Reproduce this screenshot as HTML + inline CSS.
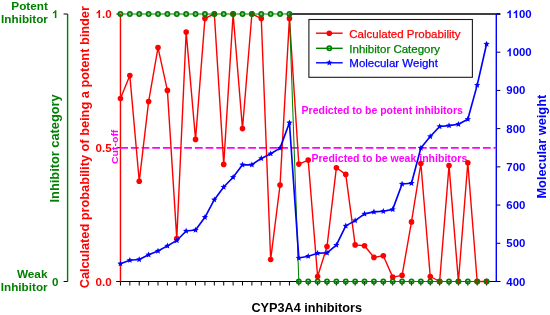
<!DOCTYPE html>
<html><head><meta charset="utf-8"><style>
html,body{margin:0;padding:0;background:#fff;}
body{width:550px;height:315px;overflow:hidden;}
svg{display:block;will-change:transform;}
</style></head><body>
<svg width="550" height="315" viewBox="0 0 550 315">
<rect width="550" height="315" fill="#fff"/>
<line x1="289.43" y1="14.0" x2="500.3" y2="14.0" stroke="#000" stroke-width="1.5"/>
<line x1="116.45" y1="281.5" x2="298.82" y2="281.5" stroke="#000" stroke-width="1"/>
<line x1="486.58" y1="281.5" x2="500.3" y2="281.5" stroke="#000" stroke-width="1"/>
<line x1="116.45" y1="14.0" x2="120.45" y2="14.0" stroke="#000" stroke-width="1"/>
<line x1="116.45" y1="147.75" x2="120.45" y2="147.75" stroke="#000" stroke-width="1"/>
<line x1="116.45" y1="281.5" x2="120.45" y2="281.5" stroke="#000" stroke-width="1"/>
<line x1="120.45" y1="281.5" x2="120.45" y2="285.5" stroke="#000" stroke-width="1"/>
<line x1="129.84" y1="281.5" x2="129.84" y2="285.5" stroke="#000" stroke-width="1"/>
<line x1="139.23" y1="281.5" x2="139.23" y2="285.5" stroke="#000" stroke-width="1"/>
<line x1="148.61" y1="281.5" x2="148.61" y2="285.5" stroke="#000" stroke-width="1"/>
<line x1="158.00" y1="281.5" x2="158.00" y2="285.5" stroke="#000" stroke-width="1"/>
<line x1="167.39" y1="281.5" x2="167.39" y2="285.5" stroke="#000" stroke-width="1"/>
<line x1="176.78" y1="281.5" x2="176.78" y2="285.5" stroke="#000" stroke-width="1"/>
<line x1="186.17" y1="281.5" x2="186.17" y2="285.5" stroke="#000" stroke-width="1"/>
<line x1="195.55" y1="281.5" x2="195.55" y2="285.5" stroke="#000" stroke-width="1"/>
<line x1="204.94" y1="281.5" x2="204.94" y2="285.5" stroke="#000" stroke-width="1"/>
<line x1="214.33" y1="281.5" x2="214.33" y2="285.5" stroke="#000" stroke-width="1"/>
<line x1="223.72" y1="281.5" x2="223.72" y2="285.5" stroke="#000" stroke-width="1"/>
<line x1="233.11" y1="281.5" x2="233.11" y2="285.5" stroke="#000" stroke-width="1"/>
<line x1="242.49" y1="281.5" x2="242.49" y2="285.5" stroke="#000" stroke-width="1"/>
<line x1="251.88" y1="281.5" x2="251.88" y2="285.5" stroke="#000" stroke-width="1"/>
<line x1="261.27" y1="281.5" x2="261.27" y2="285.5" stroke="#000" stroke-width="1"/>
<line x1="270.66" y1="281.5" x2="270.66" y2="285.5" stroke="#000" stroke-width="1"/>
<line x1="280.05" y1="281.5" x2="280.05" y2="285.5" stroke="#000" stroke-width="1"/>
<line x1="289.43" y1="281.5" x2="289.43" y2="285.5" stroke="#000" stroke-width="1"/>
<line x1="298.82" y1="281.5" x2="298.82" y2="285.5" stroke="#000" stroke-width="1"/>
<line x1="308.21" y1="281.5" x2="308.21" y2="285.5" stroke="#000" stroke-width="1"/>
<line x1="317.60" y1="281.5" x2="317.60" y2="285.5" stroke="#000" stroke-width="1"/>
<line x1="326.99" y1="281.5" x2="326.99" y2="285.5" stroke="#000" stroke-width="1"/>
<line x1="336.37" y1="281.5" x2="336.37" y2="285.5" stroke="#000" stroke-width="1"/>
<line x1="345.76" y1="281.5" x2="345.76" y2="285.5" stroke="#000" stroke-width="1"/>
<line x1="355.15" y1="281.5" x2="355.15" y2="285.5" stroke="#000" stroke-width="1"/>
<line x1="364.54" y1="281.5" x2="364.54" y2="285.5" stroke="#000" stroke-width="1"/>
<line x1="373.93" y1="281.5" x2="373.93" y2="285.5" stroke="#000" stroke-width="1"/>
<line x1="383.31" y1="281.5" x2="383.31" y2="285.5" stroke="#000" stroke-width="1"/>
<line x1="392.70" y1="281.5" x2="392.70" y2="285.5" stroke="#000" stroke-width="1"/>
<line x1="402.09" y1="281.5" x2="402.09" y2="285.5" stroke="#000" stroke-width="1"/>
<line x1="411.48" y1="281.5" x2="411.48" y2="285.5" stroke="#000" stroke-width="1"/>
<line x1="420.87" y1="281.5" x2="420.87" y2="285.5" stroke="#000" stroke-width="1"/>
<line x1="430.25" y1="281.5" x2="430.25" y2="285.5" stroke="#000" stroke-width="1"/>
<line x1="439.64" y1="281.5" x2="439.64" y2="285.5" stroke="#000" stroke-width="1"/>
<line x1="449.03" y1="281.5" x2="449.03" y2="285.5" stroke="#000" stroke-width="1"/>
<line x1="458.42" y1="281.5" x2="458.42" y2="285.5" stroke="#000" stroke-width="1"/>
<line x1="467.81" y1="281.5" x2="467.81" y2="285.5" stroke="#000" stroke-width="1"/>
<line x1="477.19" y1="281.5" x2="477.19" y2="285.5" stroke="#000" stroke-width="1"/>
<line x1="486.58" y1="281.5" x2="486.58" y2="285.5" stroke="#000" stroke-width="1"/>
<line x1="496.3" y1="14.00" x2="500.3" y2="14.00" stroke="#000" stroke-width="1"/>
<line x1="496.3" y1="52.21" x2="500.3" y2="52.21" stroke="#000" stroke-width="1"/>
<line x1="496.3" y1="90.43" x2="500.3" y2="90.43" stroke="#000" stroke-width="1"/>
<line x1="496.3" y1="128.64" x2="500.3" y2="128.64" stroke="#000" stroke-width="1"/>
<line x1="496.3" y1="166.86" x2="500.3" y2="166.86" stroke="#000" stroke-width="1"/>
<line x1="496.3" y1="205.07" x2="500.3" y2="205.07" stroke="#000" stroke-width="1"/>
<line x1="496.3" y1="243.29" x2="500.3" y2="243.29" stroke="#000" stroke-width="1"/>
<line x1="496.3" y1="281.50" x2="500.3" y2="281.50" stroke="#000" stroke-width="1"/>
<line x1="67.6" y1="14.0" x2="67.6" y2="281.5" stroke="#008000" stroke-width="1.4"/>
<line x1="63.599999999999994" y1="14.0" x2="67.6" y2="14.0" stroke="#000" stroke-width="1"/>
<line x1="63.599999999999994" y1="281.5" x2="67.6" y2="281.5" stroke="#000" stroke-width="1"/>
<line x1="120.45" y1="14.0" x2="120.45" y2="281.5" stroke="#ff0000" stroke-width="1.4"/>
<line x1="496.3" y1="14.0" x2="496.3" y2="281.5" stroke="#0000ff" stroke-width="1.4"/>
<line x1="120.23" y1="147.9" x2="496.3" y2="147.9" stroke="#ff00ff" stroke-width="1.6" stroke-dasharray="7.8 2.867"/>
<text x="301.6" y="114.3" font-family="Liberation Sans, sans-serif" font-size="10.4" font-weight="bold" fill="#ff00ff" text-anchor="start"  textLength="161.3" lengthAdjust="spacingAndGlyphs">Predicted to be potent inhibitors</text>
<text x="311.4" y="161.9" font-family="Liberation Sans, sans-serif" font-size="10.4" font-weight="bold" fill="#ff00ff" text-anchor="start"  textLength="155.9" lengthAdjust="spacingAndGlyphs">Predicted to be weak inhibitors</text>
<polyline points="120.45,98.50 129.84,75.60 139.23,181.30 148.61,101.60 158.00,47.60 167.39,90.40 176.78,238.60 186.17,32.10 195.55,139.40 204.94,18.40 214.33,14.00 223.72,164.40 233.11,14.00 242.49,128.60 251.88,14.00 261.27,18.40 270.66,259.50 280.05,185.10 289.43,18.40 298.82,164.10 308.21,160.10 317.60,276.50 326.99,246.60 336.37,167.80 345.76,174.40 355.15,244.90 364.54,245.70 373.93,257.40 383.31,255.70 392.70,277.10 402.09,275.40 411.48,221.90 420.87,163.50 430.25,276.50 439.64,281.50 449.03,165.60 458.42,281.50 467.81,162.70 477.19,281.50 486.58,281.50" fill="none" stroke="#ff0000" stroke-width="1.4" stroke-linejoin="round"/>
<circle cx="120.45" cy="98.5" r="2.8" fill="#ff0000"/>
<circle cx="129.84" cy="75.6" r="2.8" fill="#ff0000"/>
<circle cx="139.23" cy="181.3" r="2.8" fill="#ff0000"/>
<circle cx="148.61" cy="101.6" r="2.8" fill="#ff0000"/>
<circle cx="158.00" cy="47.6" r="2.8" fill="#ff0000"/>
<circle cx="167.39" cy="90.4" r="2.8" fill="#ff0000"/>
<circle cx="176.78" cy="238.6" r="2.8" fill="#ff0000"/>
<circle cx="186.17" cy="32.1" r="2.8" fill="#ff0000"/>
<circle cx="195.55" cy="139.4" r="2.8" fill="#ff0000"/>
<circle cx="204.94" cy="18.4" r="2.8" fill="#ff0000"/>
<circle cx="214.33" cy="14" r="2.8" fill="#ff0000"/>
<circle cx="223.72" cy="164.4" r="2.8" fill="#ff0000"/>
<circle cx="233.11" cy="14" r="2.8" fill="#ff0000"/>
<circle cx="242.49" cy="128.6" r="2.8" fill="#ff0000"/>
<circle cx="251.88" cy="14" r="2.8" fill="#ff0000"/>
<circle cx="261.27" cy="18.4" r="2.8" fill="#ff0000"/>
<circle cx="270.66" cy="259.5" r="2.8" fill="#ff0000"/>
<circle cx="280.05" cy="185.1" r="2.8" fill="#ff0000"/>
<circle cx="289.43" cy="18.4" r="2.8" fill="#ff0000"/>
<circle cx="298.82" cy="164.1" r="2.8" fill="#ff0000"/>
<circle cx="308.21" cy="160.1" r="2.8" fill="#ff0000"/>
<circle cx="317.60" cy="276.5" r="2.8" fill="#ff0000"/>
<circle cx="326.99" cy="246.6" r="2.8" fill="#ff0000"/>
<circle cx="336.37" cy="167.8" r="2.8" fill="#ff0000"/>
<circle cx="345.76" cy="174.4" r="2.8" fill="#ff0000"/>
<circle cx="355.15" cy="244.9" r="2.8" fill="#ff0000"/>
<circle cx="364.54" cy="245.7" r="2.8" fill="#ff0000"/>
<circle cx="373.93" cy="257.4" r="2.8" fill="#ff0000"/>
<circle cx="383.31" cy="255.7" r="2.8" fill="#ff0000"/>
<circle cx="392.70" cy="277.1" r="2.8" fill="#ff0000"/>
<circle cx="402.09" cy="275.4" r="2.8" fill="#ff0000"/>
<circle cx="411.48" cy="221.9" r="2.8" fill="#ff0000"/>
<circle cx="420.87" cy="163.5" r="2.8" fill="#ff0000"/>
<circle cx="430.25" cy="276.5" r="2.8" fill="#ff0000"/>
<circle cx="439.64" cy="281.5" r="2.8" fill="#ff0000"/>
<circle cx="449.03" cy="165.6" r="2.8" fill="#ff0000"/>
<circle cx="458.42" cy="281.5" r="2.8" fill="#ff0000"/>
<circle cx="467.81" cy="162.7" r="2.8" fill="#ff0000"/>
<circle cx="477.19" cy="281.5" r="2.8" fill="#ff0000"/>
<circle cx="486.58" cy="281.5" r="2.8" fill="#ff0000"/>
<polyline points="120.45,14.00 129.84,14.00 139.23,14.00 148.61,14.00 158.00,14.00 167.39,14.00 176.78,14.00 186.17,14.00 195.55,14.00 204.94,14.00 214.33,14.00 223.72,14.00 233.11,14.00 242.49,14.00 251.88,14.00 261.27,14.00 270.66,14.00 280.05,14.00 289.43,14.00 298.82,281.50 308.21,281.50 317.60,281.50 326.99,281.50 336.37,281.50 345.76,281.50 355.15,281.50 364.54,281.50 373.93,281.50 383.31,281.50 392.70,281.50 402.09,281.50 411.48,281.50 420.87,281.50 430.25,281.50 439.64,281.50 449.03,281.50 458.42,281.50 467.81,281.50 477.19,281.50 486.58,281.50" fill="none" stroke="#008000" stroke-width="1.05"/>
<circle cx="120.45" cy="14" r="2.1" fill="none" stroke="#008000" stroke-width="1.7"/>
<circle cx="129.84" cy="14" r="2.1" fill="none" stroke="#008000" stroke-width="1.7"/>
<circle cx="139.23" cy="14" r="2.1" fill="none" stroke="#008000" stroke-width="1.7"/>
<circle cx="148.61" cy="14" r="2.1" fill="none" stroke="#008000" stroke-width="1.7"/>
<circle cx="158.00" cy="14" r="2.1" fill="none" stroke="#008000" stroke-width="1.7"/>
<circle cx="167.39" cy="14" r="2.1" fill="none" stroke="#008000" stroke-width="1.7"/>
<circle cx="176.78" cy="14" r="2.1" fill="none" stroke="#008000" stroke-width="1.7"/>
<circle cx="186.17" cy="14" r="2.1" fill="none" stroke="#008000" stroke-width="1.7"/>
<circle cx="195.55" cy="14" r="2.1" fill="none" stroke="#008000" stroke-width="1.7"/>
<circle cx="204.94" cy="14" r="2.1" fill="none" stroke="#008000" stroke-width="1.7"/>
<circle cx="214.33" cy="14" r="2.1" fill="none" stroke="#008000" stroke-width="1.7"/>
<circle cx="223.72" cy="14" r="2.1" fill="none" stroke="#008000" stroke-width="1.7"/>
<circle cx="233.11" cy="14" r="2.1" fill="none" stroke="#008000" stroke-width="1.7"/>
<circle cx="242.49" cy="14" r="2.1" fill="none" stroke="#008000" stroke-width="1.7"/>
<circle cx="251.88" cy="14" r="2.1" fill="none" stroke="#008000" stroke-width="1.7"/>
<circle cx="261.27" cy="14" r="2.1" fill="none" stroke="#008000" stroke-width="1.7"/>
<circle cx="270.66" cy="14" r="2.1" fill="none" stroke="#008000" stroke-width="1.7"/>
<circle cx="280.05" cy="14" r="2.1" fill="none" stroke="#008000" stroke-width="1.7"/>
<circle cx="289.43" cy="14" r="2.1" fill="none" stroke="#008000" stroke-width="1.7"/>
<circle cx="298.82" cy="281.5" r="2.1" fill="none" stroke="#008000" stroke-width="1.7"/>
<circle cx="308.21" cy="281.5" r="2.1" fill="none" stroke="#008000" stroke-width="1.7"/>
<circle cx="317.60" cy="281.5" r="2.1" fill="none" stroke="#008000" stroke-width="1.7"/>
<circle cx="326.99" cy="281.5" r="2.1" fill="none" stroke="#008000" stroke-width="1.7"/>
<circle cx="336.37" cy="281.5" r="2.1" fill="none" stroke="#008000" stroke-width="1.7"/>
<circle cx="345.76" cy="281.5" r="2.1" fill="none" stroke="#008000" stroke-width="1.7"/>
<circle cx="355.15" cy="281.5" r="2.1" fill="none" stroke="#008000" stroke-width="1.7"/>
<circle cx="364.54" cy="281.5" r="2.1" fill="none" stroke="#008000" stroke-width="1.7"/>
<circle cx="373.93" cy="281.5" r="2.1" fill="none" stroke="#008000" stroke-width="1.7"/>
<circle cx="383.31" cy="281.5" r="2.1" fill="none" stroke="#008000" stroke-width="1.7"/>
<circle cx="392.70" cy="281.5" r="2.1" fill="none" stroke="#008000" stroke-width="1.7"/>
<circle cx="402.09" cy="281.5" r="2.1" fill="none" stroke="#008000" stroke-width="1.7"/>
<circle cx="411.48" cy="281.5" r="2.1" fill="none" stroke="#008000" stroke-width="1.7"/>
<circle cx="420.87" cy="281.5" r="2.1" fill="none" stroke="#008000" stroke-width="1.7"/>
<circle cx="430.25" cy="281.5" r="2.1" fill="none" stroke="#008000" stroke-width="1.7"/>
<circle cx="439.64" cy="281.5" r="2.1" fill="none" stroke="#008000" stroke-width="1.7"/>
<circle cx="449.03" cy="281.5" r="2.1" fill="none" stroke="#008000" stroke-width="1.7"/>
<circle cx="458.42" cy="281.5" r="2.1" fill="none" stroke="#008000" stroke-width="1.7"/>
<circle cx="467.81" cy="281.5" r="2.1" fill="none" stroke="#008000" stroke-width="1.7"/>
<circle cx="477.19" cy="281.5" r="2.1" fill="none" stroke="#008000" stroke-width="1.7"/>
<circle cx="486.58" cy="281.5" r="2.1" fill="none" stroke="#008000" stroke-width="1.7"/>
<polyline points="120.45,263.70 129.84,260.20 139.23,259.50 148.61,254.80 158.00,251.00 167.39,245.90 176.78,240.50 186.17,231.00 195.55,230.00 204.94,217.30 214.33,199.70 223.72,187.00 233.11,177.30 242.49,164.80 251.88,164.80 261.27,158.40 270.66,153.70 280.05,148.10 289.43,122.70 298.82,258.00 308.21,256.20 317.60,253.20 326.99,252.90 336.37,245.10 345.76,225.90 355.15,220.60 364.54,213.90 373.93,211.90 383.31,211.30 392.70,209.40 402.09,184.00 411.48,183.30 420.87,148.00 430.25,136.50 439.64,126.50 449.03,125.60 458.42,124.30 467.81,119.20 477.19,85.10 486.58,44.00" fill="none" stroke="#0000ff" stroke-width="1.65" stroke-linejoin="round"/>
<polygon points="120.45,260.40 121.32,262.50 123.59,262.68 121.86,264.16 122.39,266.37 120.45,265.19 118.51,266.37 119.04,264.16 117.31,262.68 119.58,262.50" fill="#0000ff"/>
<polygon points="129.84,256.90 130.71,259.00 132.98,259.18 131.25,260.66 131.78,262.87 129.84,261.69 127.90,262.87 128.43,260.66 126.70,259.18 128.97,259.00" fill="#0000ff"/>
<polygon points="139.23,256.20 140.10,258.30 142.36,258.48 140.64,259.96 141.17,262.17 139.23,260.99 137.29,262.17 137.81,259.96 136.09,258.48 138.35,258.30" fill="#0000ff"/>
<polygon points="148.61,251.50 149.49,253.60 151.75,253.78 150.03,255.26 150.55,257.47 148.61,256.29 146.67,257.47 147.20,255.26 145.48,253.78 147.74,253.60" fill="#0000ff"/>
<polygon points="158.00,247.70 158.87,249.80 161.14,249.98 159.41,251.46 159.94,253.67 158.00,252.49 156.06,253.67 156.59,251.46 154.86,249.98 157.13,249.80" fill="#0000ff"/>
<polygon points="167.39,242.60 168.26,244.70 170.53,244.88 168.80,246.36 169.33,248.57 167.39,247.39 165.45,248.57 165.98,246.36 164.25,244.88 166.52,244.70" fill="#0000ff"/>
<polygon points="176.78,237.20 177.65,239.30 179.92,239.48 178.19,240.96 178.72,243.17 176.78,241.99 174.84,243.17 175.37,240.96 173.64,239.48 175.91,239.30" fill="#0000ff"/>
<polygon points="186.17,227.70 187.04,229.80 189.30,229.98 187.58,231.46 188.11,233.67 186.17,232.49 184.23,233.67 184.75,231.46 183.03,229.98 185.29,229.80" fill="#0000ff"/>
<polygon points="195.55,226.70 196.43,228.80 198.69,228.98 196.97,230.46 197.49,232.67 195.55,231.49 193.61,232.67 194.14,230.46 192.42,228.98 194.68,228.80" fill="#0000ff"/>
<polygon points="204.94,214.00 205.81,216.10 208.08,216.28 206.35,217.76 206.88,219.97 204.94,218.79 203.00,219.97 203.53,217.76 201.80,216.28 204.07,216.10" fill="#0000ff"/>
<polygon points="214.33,196.40 215.20,198.50 217.47,198.68 215.74,200.16 216.27,202.37 214.33,201.19 212.39,202.37 212.92,200.16 211.19,198.68 213.46,198.50" fill="#0000ff"/>
<polygon points="223.72,183.70 224.59,185.80 226.86,185.98 225.13,187.46 225.66,189.67 223.72,188.49 221.78,189.67 222.31,187.46 220.58,185.98 222.85,185.80" fill="#0000ff"/>
<polygon points="233.11,174.00 233.98,176.10 236.24,176.28 234.52,177.76 235.05,179.97 233.11,178.79 231.17,179.97 231.69,177.76 229.97,176.28 232.23,176.10" fill="#0000ff"/>
<polygon points="242.49,161.50 243.37,163.60 245.63,163.78 243.91,165.26 244.43,167.47 242.49,166.29 240.55,167.47 241.08,165.26 239.36,163.78 241.62,163.60" fill="#0000ff"/>
<polygon points="251.88,161.50 252.75,163.60 255.02,163.78 253.29,165.26 253.82,167.47 251.88,166.29 249.94,167.47 250.47,165.26 248.74,163.78 251.01,163.60" fill="#0000ff"/>
<polygon points="261.27,155.10 262.14,157.20 264.41,157.38 262.68,158.86 263.21,161.07 261.27,159.89 259.33,161.07 259.86,158.86 258.13,157.38 260.40,157.20" fill="#0000ff"/>
<polygon points="270.66,150.40 271.53,152.50 273.80,152.68 272.07,154.16 272.60,156.37 270.66,155.19 268.72,156.37 269.25,154.16 267.52,152.68 269.79,152.50" fill="#0000ff"/>
<polygon points="280.05,144.80 280.92,146.90 283.18,147.08 281.46,148.56 281.99,150.77 280.05,149.59 278.11,150.77 278.63,148.56 276.91,147.08 279.17,146.90" fill="#0000ff"/>
<polygon points="289.43,119.40 290.31,121.50 292.57,121.68 290.85,123.16 291.37,125.37 289.43,124.19 287.49,125.37 288.02,123.16 286.30,121.68 288.56,121.50" fill="#0000ff"/>
<polygon points="298.82,254.70 299.69,256.80 301.96,256.98 300.23,258.46 300.76,260.67 298.82,259.49 296.88,260.67 297.41,258.46 295.68,256.98 297.95,256.80" fill="#0000ff"/>
<polygon points="308.21,252.90 309.08,255.00 311.35,255.18 309.62,256.66 310.15,258.87 308.21,257.69 306.27,258.87 306.80,256.66 305.07,255.18 307.34,255.00" fill="#0000ff"/>
<polygon points="317.60,249.90 318.47,252.00 320.74,252.18 319.01,253.66 319.54,255.87 317.60,254.69 315.66,255.87 316.19,253.66 314.46,252.18 316.73,252.00" fill="#0000ff"/>
<polygon points="326.99,249.60 327.86,251.70 330.12,251.88 328.40,253.36 328.93,255.57 326.99,254.39 325.05,255.57 325.57,253.36 323.85,251.88 326.11,251.70" fill="#0000ff"/>
<polygon points="336.37,241.80 337.25,243.90 339.51,244.08 337.79,245.56 338.31,247.77 336.37,246.59 334.43,247.77 334.96,245.56 333.24,244.08 335.50,243.90" fill="#0000ff"/>
<polygon points="345.76,222.60 346.63,224.70 348.90,224.88 347.17,226.36 347.70,228.57 345.76,227.39 343.82,228.57 344.35,226.36 342.62,224.88 344.89,224.70" fill="#0000ff"/>
<polygon points="355.15,217.30 356.02,219.40 358.29,219.58 356.56,221.06 357.09,223.27 355.15,222.09 353.21,223.27 353.74,221.06 352.01,219.58 354.28,219.40" fill="#0000ff"/>
<polygon points="364.54,210.60 365.41,212.70 367.68,212.88 365.95,214.36 366.48,216.57 364.54,215.39 362.60,216.57 363.13,214.36 361.40,212.88 363.67,212.70" fill="#0000ff"/>
<polygon points="373.93,208.60 374.80,210.70 377.06,210.88 375.34,212.36 375.87,214.57 373.93,213.39 371.99,214.57 372.51,212.36 370.79,210.88 373.05,210.70" fill="#0000ff"/>
<polygon points="383.31,208.00 384.19,210.10 386.45,210.28 384.73,211.76 385.25,213.97 383.31,212.79 381.37,213.97 381.90,211.76 380.18,210.28 382.44,210.10" fill="#0000ff"/>
<polygon points="392.70,206.10 393.57,208.20 395.84,208.38 394.11,209.86 394.64,212.07 392.70,210.89 390.76,212.07 391.29,209.86 389.56,208.38 391.83,208.20" fill="#0000ff"/>
<polygon points="402.09,180.70 402.96,182.80 405.23,182.98 403.50,184.46 404.03,186.67 402.09,185.49 400.15,186.67 400.68,184.46 398.95,182.98 401.22,182.80" fill="#0000ff"/>
<polygon points="411.48,180.00 412.35,182.10 414.62,182.28 412.89,183.76 413.42,185.97 411.48,184.79 409.54,185.97 410.07,183.76 408.34,182.28 410.61,182.10" fill="#0000ff"/>
<polygon points="420.87,144.70 421.74,146.80 424.00,146.98 422.28,148.46 422.81,150.67 420.87,149.49 418.93,150.67 419.45,148.46 417.73,146.98 419.99,146.80" fill="#0000ff"/>
<polygon points="430.25,133.20 431.13,135.30 433.39,135.48 431.67,136.96 432.19,139.17 430.25,137.99 428.31,139.17 428.84,136.96 427.12,135.48 429.38,135.30" fill="#0000ff"/>
<polygon points="439.64,123.20 440.51,125.30 442.78,125.48 441.05,126.96 441.58,129.17 439.64,127.98 437.70,129.17 438.23,126.96 436.50,125.48 438.77,125.30" fill="#0000ff"/>
<polygon points="449.03,122.30 449.90,124.40 452.17,124.58 450.44,126.06 450.97,128.27 449.03,127.08 447.09,128.27 447.62,126.06 445.89,124.58 448.16,124.40" fill="#0000ff"/>
<polygon points="458.42,121.00 459.29,123.10 461.56,123.28 459.83,124.76 460.36,126.97 458.42,125.78 456.48,126.97 457.01,124.76 455.28,123.28 457.55,123.10" fill="#0000ff"/>
<polygon points="467.81,115.90 468.68,118.00 470.94,118.18 469.22,119.66 469.75,121.87 467.81,120.69 465.87,121.87 466.39,119.66 464.67,118.18 466.93,118.00" fill="#0000ff"/>
<polygon points="477.19,81.80 478.07,83.90 480.33,84.08 478.61,85.56 479.13,87.77 477.19,86.58 475.25,87.77 475.78,85.56 474.06,84.08 476.32,83.90" fill="#0000ff"/>
<polygon points="486.58,40.70 487.45,42.80 489.72,42.98 487.99,44.46 488.52,46.67 486.58,45.48 484.64,46.67 485.17,44.46 483.44,42.98 485.71,42.80" fill="#0000ff"/>
<text x="47.9" y="10.1" font-family="Liberation Sans, sans-serif" font-size="11.0" font-weight="bold" fill="#008000" text-anchor="end"  textLength="36.6" lengthAdjust="spacingAndGlyphs">Potent</text>
<text x="47.9" y="23.4" font-family="Liberation Sans, sans-serif" font-size="11.0" font-weight="bold" fill="#008000" text-anchor="end"  textLength="46.8" lengthAdjust="spacingAndGlyphs">Inhibitor</text>
<text x="47.5" y="277.9" font-family="Liberation Sans, sans-serif" font-size="11.0" font-weight="bold" fill="#008000" text-anchor="end"  textLength="30.6" lengthAdjust="spacingAndGlyphs">Weak</text>
<text x="47.6" y="291.3" font-family="Liberation Sans, sans-serif" font-size="11.0" font-weight="bold" fill="#008000" text-anchor="end"  textLength="46.8" lengthAdjust="spacingAndGlyphs">Inhibitor</text>
<path d="M815 0H541V1000Q391 865 187 800V1045Q294 1080 420 1175Q546 1270 593 1409H815Z" fill="#008000" transform="translate(51.860,18.0) scale(0.005566,-0.005566)"/>
<text x="51.949" y="285.8" font-family="Liberation Sans, sans-serif" font-size="11.6" font-weight="bold" fill="#008000">0</text>
<text x="0" y="0" font-family="Liberation Sans, sans-serif" font-size="12.8" font-weight="bold" fill="#008000" text-anchor="middle" transform="translate(58.5,148.4) rotate(-90)">Inhibitor category</text>
<text x="0" y="0" font-family="Liberation Sans, sans-serif" font-size="12.77" font-weight="bold" fill="#ff0000" text-anchor="middle" transform="translate(89,147.2) rotate(-90)">Calculated probability of being a potent binder</text>
<text x="0" y="0" font-family="Liberation Sans, sans-serif" font-size="12.8" font-weight="bold" fill="#0000ff" text-anchor="middle" transform="translate(546.0,146.65) rotate(-90)">Molecular weight</text>
<text x="0" y="0" font-family="Liberation Sans, sans-serif" font-size="9.4" font-weight="bold" fill="#ff00ff" text-anchor="middle" transform="translate(117.6,146.8) rotate(-90)" textLength="34.3" lengthAdjust="spacingAndGlyphs">Cut-off</text>
<path d="M815 0H541V1000Q391 865 187 800V1045Q294 1080 420 1175Q546 1270 593 1409H815Z" fill="#ff0000" transform="translate(95.474,18.1) scale(0.005664,-0.005664)"/>
<text x="101.926" y="18.1" font-family="Liberation Sans, sans-serif" font-size="11.6" font-weight="bold" fill="#ff0000">.</text>
<text x="105.149" y="18.1" font-family="Liberation Sans, sans-serif" font-size="11.6" font-weight="bold" fill="#ff0000">0</text>
<text x="95.474" y="151.85" font-family="Liberation Sans, sans-serif" font-size="11.6" font-weight="bold" fill="#ff0000">0</text>
<text x="101.926" y="151.85" font-family="Liberation Sans, sans-serif" font-size="11.6" font-weight="bold" fill="#ff0000">.</text>
<text x="105.149" y="151.85" font-family="Liberation Sans, sans-serif" font-size="11.6" font-weight="bold" fill="#ff0000">5</text>
<text x="95.474" y="285.6" font-family="Liberation Sans, sans-serif" font-size="11.6" font-weight="bold" fill="#ff0000">0</text>
<text x="101.926" y="285.6" font-family="Liberation Sans, sans-serif" font-size="11.6" font-weight="bold" fill="#ff0000">.</text>
<text x="105.149" y="285.6" font-family="Liberation Sans, sans-serif" font-size="11.6" font-weight="bold" fill="#ff0000">0</text>
<path d="M815 0H541V1000Q391 865 187 800V1045Q294 1080 420 1175Q546 1270 593 1409H815Z" fill="#0000ff" transform="translate(506.300,18.0) scale(0.005566,-0.005566)"/>
<path d="M815 0H541V1000Q391 865 187 800V1045Q294 1080 420 1175Q546 1270 593 1409H815Z" fill="#0000ff" transform="translate(512.640,18.0) scale(0.005566,-0.005566)"/>
<text x="518.980" y="18.0" font-family="Liberation Sans, sans-serif" font-size="11.4" font-weight="bold" fill="#0000ff">0</text>
<text x="525.320" y="18.0" font-family="Liberation Sans, sans-serif" font-size="11.4" font-weight="bold" fill="#0000ff">0</text>
<path d="M815 0H541V1000Q391 865 187 800V1045Q294 1080 420 1175Q546 1270 593 1409H815Z" fill="#0000ff" transform="translate(506.300,56.214285714285715) scale(0.005566,-0.005566)"/>
<text x="512.640" y="56.214285714285715" font-family="Liberation Sans, sans-serif" font-size="11.4" font-weight="bold" fill="#0000ff">0</text>
<text x="518.980" y="56.214285714285715" font-family="Liberation Sans, sans-serif" font-size="11.4" font-weight="bold" fill="#0000ff">0</text>
<text x="525.320" y="56.214285714285715" font-family="Liberation Sans, sans-serif" font-size="11.4" font-weight="bold" fill="#0000ff">0</text>
<text x="506.300" y="94.42857142857143" font-family="Liberation Sans, sans-serif" font-size="11.4" font-weight="bold" fill="#0000ff">9</text>
<text x="512.640" y="94.42857142857143" font-family="Liberation Sans, sans-serif" font-size="11.4" font-weight="bold" fill="#0000ff">0</text>
<text x="518.980" y="94.42857142857143" font-family="Liberation Sans, sans-serif" font-size="11.4" font-weight="bold" fill="#0000ff">0</text>
<text x="506.300" y="132.64285714285714" font-family="Liberation Sans, sans-serif" font-size="11.4" font-weight="bold" fill="#0000ff">8</text>
<text x="512.640" y="132.64285714285714" font-family="Liberation Sans, sans-serif" font-size="11.4" font-weight="bold" fill="#0000ff">0</text>
<text x="518.980" y="132.64285714285714" font-family="Liberation Sans, sans-serif" font-size="11.4" font-weight="bold" fill="#0000ff">0</text>
<text x="506.300" y="170.85714285714286" font-family="Liberation Sans, sans-serif" font-size="11.4" font-weight="bold" fill="#0000ff">7</text>
<text x="512.640" y="170.85714285714286" font-family="Liberation Sans, sans-serif" font-size="11.4" font-weight="bold" fill="#0000ff">0</text>
<text x="518.980" y="170.85714285714286" font-family="Liberation Sans, sans-serif" font-size="11.4" font-weight="bold" fill="#0000ff">0</text>
<text x="506.300" y="209.07142857142858" font-family="Liberation Sans, sans-serif" font-size="11.4" font-weight="bold" fill="#0000ff">6</text>
<text x="512.640" y="209.07142857142858" font-family="Liberation Sans, sans-serif" font-size="11.4" font-weight="bold" fill="#0000ff">0</text>
<text x="518.980" y="209.07142857142858" font-family="Liberation Sans, sans-serif" font-size="11.4" font-weight="bold" fill="#0000ff">0</text>
<text x="506.300" y="247.28571428571428" font-family="Liberation Sans, sans-serif" font-size="11.4" font-weight="bold" fill="#0000ff">5</text>
<text x="512.640" y="247.28571428571428" font-family="Liberation Sans, sans-serif" font-size="11.4" font-weight="bold" fill="#0000ff">0</text>
<text x="518.980" y="247.28571428571428" font-family="Liberation Sans, sans-serif" font-size="11.4" font-weight="bold" fill="#0000ff">0</text>
<text x="506.300" y="285.5" font-family="Liberation Sans, sans-serif" font-size="11.4" font-weight="bold" fill="#0000ff">4</text>
<text x="512.640" y="285.5" font-family="Liberation Sans, sans-serif" font-size="11.4" font-weight="bold" fill="#0000ff">0</text>
<text x="518.980" y="285.5" font-family="Liberation Sans, sans-serif" font-size="11.4" font-weight="bold" fill="#0000ff">0</text>
<text x="251.4" y="312.2" font-family="Liberation Sans, sans-serif" font-size="12.7" font-weight="bold" fill="#000" text-anchor="start" >CYP3A4 inhibitors</text>
<rect x="308.9" y="19.5" width="163.5" height="57.8" fill="#fff" stroke="#1a1a1a" stroke-width="1.1"/>
<line x1="316" y1="33.2" x2="342.7" y2="33.2" stroke="#ff0000" stroke-width="1.4"/>
<circle cx="329.3" cy="33.2" r="2.8" fill="#ff0000"/>
<text x="349.3" y="37.5" font-family="Liberation Sans, sans-serif" font-size="11.5"  fill="#ff0000" text-anchor="start" stroke="#ff0000" stroke-width="0.25">Calculated Probability</text>
<line x1="316" y1="48.3" x2="342.7" y2="48.3" stroke="#008000" stroke-width="1.4"/>
<circle cx="329.3" cy="48.3" r="2.1" fill="none" stroke="#008000" stroke-width="1.7"/>
<text x="349.3" y="52.599999999999994" font-family="Liberation Sans, sans-serif" font-size="11.5"  fill="#008000" text-anchor="start" stroke="#008000" stroke-width="0.25">Inhibitor Category</text>
<line x1="316" y1="62.8" x2="342.7" y2="62.8" stroke="#0000ff" stroke-width="1.4"/>
<polygon points="329.30,59.50 330.17,61.60 332.44,61.78 330.71,63.26 331.24,65.47 329.30,64.28 327.36,65.47 327.89,63.26 326.16,61.78 328.43,61.60" fill="#0000ff"/>
<text x="349.3" y="67.1" font-family="Liberation Sans, sans-serif" font-size="11.5"  fill="#0000ff" text-anchor="start" stroke="#0000ff" stroke-width="0.25">Molecular Weight</text>
</svg>
</body></html>
